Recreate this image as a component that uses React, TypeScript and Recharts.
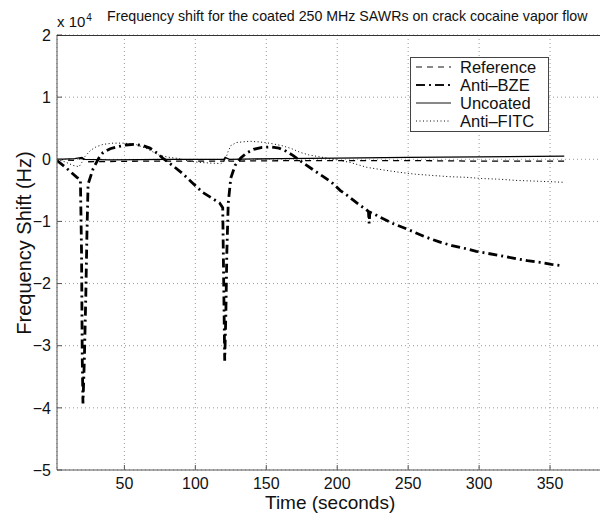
import { LineChart, Line, XAxis, YAxis, CartesianGrid } from 'recharts';

// time in seconds, shift in units of 1e4 Hz
const referenceT = [2.5, 15, 20, 23, 60, 120, 121, 124, 175, 250, 300, 360];
const referenceV = [0, -0.02, 0.02, -0.04, -0.03, -0.03, 0.02, -0.03, -0.02, -0.02, -0.03, -0.03];

const antiBzeT = [
  2.5, 8, 13, 16.5, 19, 19.8, 20.3, 20.8, 21.8, 22.8, 23.6, 24.4, 28, 32, 35, 40, 45, 51, 57, 63, 68, 73, 77, 84, 91, 98,
  105, 110, 114, 117, 119.3, 120, 120.7, 121.5, 122.2, 123.2, 125, 128, 132, 136, 141, 147, 153, 159, 164, 169, 173, 178,
  185, 191, 197, 202, 207, 212, 216, 220, 222, 222.5, 223, 226, 230, 240, 251, 261, 272, 281, 291, 298, 305, 315, 324,
  334, 343, 351, 358,
];
const antiBzeV = [
  -0.02, -0.12, -0.22, -0.29, -0.33, -1.5, -3.2, -3.93, -3.2, -2.2, -1.2, -0.4, -0.15, 0.02, 0.11, 0.17, 0.2, 0.23, 0.24,
  0.22, 0.18, 0.1, 0.02, -0.1, -0.23, -0.38, -0.53, -0.6, -0.66, -0.7, -0.78, -2.0, -3.24, -2.5, -1.5, -0.7, -0.3, -0.1,
  0.02, 0.1, 0.16, 0.19, 0.2, 0.18, 0.13, 0.06, -0.01, -0.09, -0.2, -0.29, -0.39, -0.5, -0.58, -0.67, -0.74, -0.8, -0.84,
  -1.03, -0.85, -0.88, -0.93, -1.04, -1.14, -1.24, -1.33, -1.39, -1.44, -1.48, -1.51, -1.55, -1.59, -1.63, -1.66, -1.69,
  -1.71,
];

const uncoatedT = [2.5, 15, 20, 22, 40, 80, 120, 121, 124, 160, 200, 250, 300, 360];
const uncoatedV = [0, 0.01, 0.03, 0, -0.01, 0, 0, 0.03, 0, 0.01, 0.02, 0.03, 0.04, 0.05];

const antiFitcT = [
  2.5, 8, 14, 18, 20, 22, 26, 30, 35, 42, 50, 58, 65, 70, 75, 82, 89, 96, 103, 110, 118, 121, 123, 125, 129, 138, 145,
  152, 161, 168, 174, 180, 185, 195, 202, 209, 215, 221, 232, 244, 255, 267, 279, 291, 302, 314, 326, 338, 350, 359,
];
const antiFitcV = [
  0, -0.04, -0.1, -0.12, -0.05, 0.04, 0.14, 0.2, 0.24, 0.26, 0.26, 0.24, 0.18, 0.12, 0.06, 0.03, 0.01, -0.03, -0.05,
  -0.06, -0.07, -0.02, 0.12, 0.22, 0.27, 0.29, 0.28, 0.26, 0.22, 0.17, 0.11, 0.07, 0.05, 0.01, -0.02, -0.05, -0.09, -0.13,
  -0.17, -0.21, -0.24, -0.26, -0.28, -0.29, -0.31, -0.32, -0.34, -0.35, -0.36, -0.37,
];

const xTicks = [50, 100, 150, 200, 250, 300, 350];
const yTicks = [-5, -4, -3, -2, -1, 0, 1, 2];

const toPoints = (t: number[], v: number[]) => t.map((x, i) => ({ t: x, v: v[i] }));

const series = [
  { name: 'Reference', data: toPoints(referenceT, referenceV), dash: '6 5', width: 1.3 },
  { name: 'Anti-BZE', data: toPoints(antiBzeT, antiBzeV), dash: '9 4 2 4', width: 2.8 },
  { name: 'Uncoated', data: toPoints(uncoatedT, uncoatedV), dash: undefined, width: 1.3 },
  { name: 'Anti-FITC', data: toPoints(antiFitcT, antiFitcV), dash: '1 2.5', width: 1 },
];

const FONT = '"Liberation Sans", Arial, sans-serif';

// matlab-style boxed legend, placed over the plot
function MatlabLegend() {
  return (
    <div
      style={{
        position: 'absolute',
        left: 410,
        top: 57,
        width: 137,
        border: '1px solid #444',
        background: '#fff',
        padding: '0 0 1px 0',
        fontFamily: FONT,
      }}
    >
      {series.map(s => (
        <div key={s.name} style={{ display: 'flex', alignItems: 'center', height: 18, lineHeight: '18px', fontSize: 16.5, color: '#111' }}>
          <svg width={49} height={10} style={{ flex: 'none' }}>
            <line x1={5} x2={40} y1={5} y2={5} stroke="#111" strokeWidth={s.width > 2 ? 2 : 1} strokeDasharray={s.dash} />
          </svg>
          <span>{s.name.replace('-', '–')}</span>
        </div>
      ))}
    </div>
  );
}

const fmtY = (v: number) => (v < 0 ? '−' + Math.abs(v) : String(v));

export default function App() {
  return (
    <div style={{ position: 'absolute', left: 0, top: 0, width: 600, height: 514, overflow: 'hidden', background: '#fff', fontFamily: FONT }}>
      <LineChart width={640} height={514} margin={{ top: 35, right: 19, bottom: 0, left: 17 }}>
        <CartesianGrid stroke="#999" strokeDasharray="1 3" />
        <XAxis
          type="number"
          dataKey="t"
          domain={[2.5, 400]}
          ticks={xTicks}
          allowDataOverflow
          height={44}
          stroke="#555"
          tickSize={-5}
          tickMargin={13}
          tick={{ fill: '#111', fontSize: 16 }}
        />
        <YAxis
          type="number"
          dataKey="v"
          domain={[-5, 2]}
          ticks={yTicks}
          allowDataOverflow
          width={40}
          stroke="#555"
          tickSize={-5}
          tickMargin={11}
          tickFormatter={fmtY}
          tick={{ fill: '#111', fontSize: 16 }}
        />
        {series.map(s => (
          <Line
            key={s.name}
            name={s.name}
            data={s.data}
            dataKey="v"
            type="linear"
            stroke="#000"
            strokeWidth={s.width}
            strokeDasharray={s.dash}
            dot={false}
            activeDot={false}
            isAnimationActive={false}
          />
        ))}
      </LineChart>
      <MatlabLegend />
      <div style={{ position: 'absolute', left: 57, top: 35, width: 560, height: 0, borderTop: '1px solid #333' }} />
      <div style={{ position: 'absolute', left: 107, top: 8, fontSize: 14.2, lineHeight: '17px', color: '#111', whiteSpace: 'nowrap' }}>
        Frequency shift for the coated 250 MHz SAWRs on crack cocaine vapor flow
      </div>
      <div style={{ position: 'absolute', left: 57, top: 13, fontSize: 15, lineHeight: '17px', color: '#111', whiteSpace: 'nowrap' }}>
        x 10<sup style={{ fontSize: 10, verticalAlign: 'top', position: 'relative', top: -4, marginLeft: 1 }}>4</sup>
      </div>
      <div style={{ position: 'absolute', left: 265, top: 493, fontSize: 19, lineHeight: '20px', color: '#111', whiteSpace: 'nowrap' }}>
        Time (seconds)
      </div>
      <div
        style={{
          position: 'absolute',
          left: 24,
          top: 243,
          fontSize: 20,
          lineHeight: '22px',
          color: '#111',
          whiteSpace: 'nowrap',
          transform: 'translate(-50%, -50%) rotate(-90deg)',
        }}
      >
        Frequency Shift (Hz)
      </div>
    </div>
  );
}
